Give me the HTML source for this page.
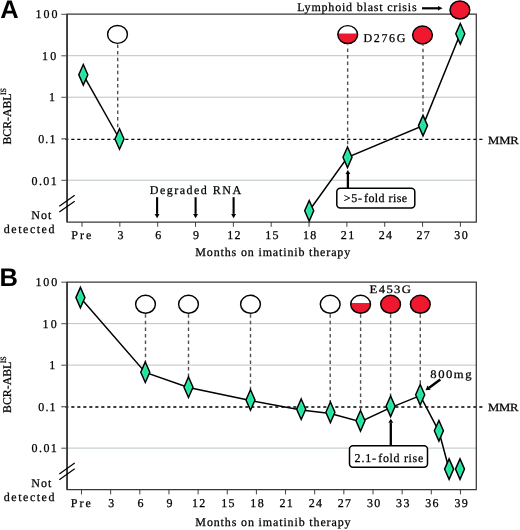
<!DOCTYPE html>
<html><head><meta charset="utf-8"><style>
html,body{margin:0;padding:0;background:#fff;}
body{width:520px;height:530px;overflow:hidden;}
svg{display:block;will-change:transform;}
text{text-rendering:geometricPrecision;}
</style></head><body>
<svg width="520" height="530" viewBox="0 0 520 530">
<rect width="520" height="530" fill="#fff"/>
<defs><radialGradient id="dg" cx="0.5" cy="0.5" r="0.5"><stop offset="0" stop-color="#14ea80"/><stop offset="0.3" stop-color="#1ee994"/><stop offset="0.72" stop-color="#48e2d6"/></radialGradient></defs>
<line x1="67.1" y1="55.70" x2="476.3" y2="55.70" stroke="#b9c6c1" stroke-width="1"/>
<line x1="67.1" y1="97.20" x2="476.3" y2="97.20" stroke="#b9c6c1" stroke-width="1"/>
<line x1="67.1" y1="180.20" x2="476.3" y2="180.20" stroke="#b9c6c1" stroke-width="1"/>
<line x1="62.099999999999994" y1="139.40" x2="482.6" y2="139.40" stroke="#000" stroke-width="1.35" stroke-dasharray="3.1 2.9" stroke-dashoffset="2.8"/>
<path d="M67.1 14.2 H476.3 V222.0 H67.1 Z" fill="none" stroke="#383838" stroke-width="1.25"/>
<line x1="67.1" y1="14.2" x2="67.1" y2="222.0" stroke="#383838" stroke-width="1.7"/>
<line x1="61.3" y1="14.30" x2="67.1" y2="14.30" stroke="#444" stroke-width="0.95"/>
<line x1="61.3" y1="55.80" x2="67.1" y2="55.80" stroke="#444" stroke-width="0.95"/>
<line x1="61.3" y1="97.30" x2="67.1" y2="97.30" stroke="#444" stroke-width="0.95"/>
<line x1="61.3" y1="138.80" x2="67.1" y2="138.80" stroke="#444" stroke-width="0.95"/>
<line x1="61.3" y1="180.30" x2="67.1" y2="180.30" stroke="#444" stroke-width="0.95"/>
<line x1="82.0" y1="222.0" x2="82.0" y2="226.8" stroke="#383838" stroke-width="0.95"/>
<line x1="119.84" y1="222.0" x2="119.84" y2="226.8" stroke="#383838" stroke-width="0.95"/>
<line x1="157.68" y1="222.0" x2="157.68" y2="226.8" stroke="#383838" stroke-width="0.95"/>
<line x1="195.52" y1="222.0" x2="195.52" y2="226.8" stroke="#383838" stroke-width="0.95"/>
<line x1="233.36" y1="222.0" x2="233.36" y2="226.8" stroke="#383838" stroke-width="0.95"/>
<line x1="271.20000000000005" y1="222.0" x2="271.20000000000005" y2="226.8" stroke="#383838" stroke-width="0.95"/>
<line x1="309.04" y1="222.0" x2="309.04" y2="226.8" stroke="#383838" stroke-width="0.95"/>
<line x1="346.88" y1="222.0" x2="346.88" y2="226.8" stroke="#383838" stroke-width="0.95"/>
<line x1="384.72" y1="222.0" x2="384.72" y2="226.8" stroke="#383838" stroke-width="0.95"/>
<line x1="422.56000000000006" y1="222.0" x2="422.56000000000006" y2="226.8" stroke="#383838" stroke-width="0.95"/>
<line x1="460.40000000000003" y1="222.0" x2="460.40000000000003" y2="226.8" stroke="#383838" stroke-width="0.95"/>
<text transform="translate(120.44 239.0) scale(1.0 1)" font-family='"Liberation Serif", serif' font-size="12" letter-spacing="0" text-anchor="middle" font-weight="normal" fill="#000" stroke="#000" stroke-width="0.25">3</text>
<text transform="translate(158.28 239.0) scale(1.0 1)" font-family='"Liberation Serif", serif' font-size="12" letter-spacing="0" text-anchor="middle" font-weight="normal" fill="#000" stroke="#000" stroke-width="0.25">6</text>
<text transform="translate(196.12 239.0) scale(1.0 1)" font-family='"Liberation Serif", serif' font-size="12" letter-spacing="0" text-anchor="middle" font-weight="normal" fill="#000" stroke="#000" stroke-width="0.25">9</text>
<text transform="translate(234.61 239.0) scale(1.0 1)" font-family='"Liberation Serif", serif' font-size="12" letter-spacing="1.3" text-anchor="middle" font-weight="normal" fill="#000" stroke="#000" stroke-width="0.25">12</text>
<text transform="translate(272.45000000000005 239.0) scale(1.0 1)" font-family='"Liberation Serif", serif' font-size="12" letter-spacing="1.3" text-anchor="middle" font-weight="normal" fill="#000" stroke="#000" stroke-width="0.25">15</text>
<text transform="translate(310.29 239.0) scale(1.0 1)" font-family='"Liberation Serif", serif' font-size="12" letter-spacing="1.3" text-anchor="middle" font-weight="normal" fill="#000" stroke="#000" stroke-width="0.25">18</text>
<text transform="translate(348.13 239.0) scale(1.0 1)" font-family='"Liberation Serif", serif' font-size="12" letter-spacing="1.3" text-anchor="middle" font-weight="normal" fill="#000" stroke="#000" stroke-width="0.25">21</text>
<text transform="translate(385.97 239.0) scale(1.0 1)" font-family='"Liberation Serif", serif' font-size="12" letter-spacing="1.3" text-anchor="middle" font-weight="normal" fill="#000" stroke="#000" stroke-width="0.25">24</text>
<text transform="translate(423.81000000000006 239.0) scale(1.0 1)" font-family='"Liberation Serif", serif' font-size="12" letter-spacing="1.3" text-anchor="middle" font-weight="normal" fill="#000" stroke="#000" stroke-width="0.25">27</text>
<text transform="translate(461.65000000000003 239.0) scale(1.0 1)" font-family='"Liberation Serif", serif' font-size="12" letter-spacing="1.3" text-anchor="middle" font-weight="normal" fill="#000" stroke="#000" stroke-width="0.25">30</text>
<line x1="59.3" y1="206.3" x2="74.7" y2="195.3" stroke="#000" stroke-width="1.2"/>
<line x1="59.3" y1="212.1" x2="74.7" y2="201.2" stroke="#000" stroke-width="1.2"/>
<text transform="translate(0.3 18.4) scale(1 1)" font-family='"Liberation Sans", sans-serif' font-size="25.5" letter-spacing="0" text-anchor="start" font-weight="bold" fill="#000">A</text>
<line x1="117.7" y1="44.5" x2="117.7" y2="128" stroke="#505050" stroke-width="1.4" stroke-dasharray="3.5 3.1" stroke-dashoffset="0.05"/>
<line x1="347.65" y1="44.8" x2="347.65" y2="147" stroke="#505050" stroke-width="1.4" stroke-dasharray="3.5 3.1" stroke-dashoffset="3.0"/>
<line x1="423" y1="44.8" x2="423" y2="114" stroke="#505050" stroke-width="1.4" stroke-dasharray="3.5 3.1" stroke-dashoffset="2.6"/>
<path d="M83.3 74.8 L119.5 139.0" fill="none" stroke="#000" stroke-width="1.5"/>
<path d="M309.2 210.8 L347.5 157.3 L423 125.6 L460.3 33.8" fill="none" stroke="#000" stroke-width="1.5"/>
<path d="M83.30 64.55 L87.80 74.80 L83.30 85.05 L78.80 74.80 Z" fill="url(#dg)" stroke="#000" stroke-width="1.5"/>
<path d="M119.50 128.75 L124.00 139.00 L119.50 149.25 L115.00 139.00 Z" fill="url(#dg)" stroke="#000" stroke-width="1.5"/>
<path d="M309.20 200.55 L313.70 210.80 L309.20 221.05 L304.70 210.80 Z" fill="url(#dg)" stroke="#000" stroke-width="1.5"/>
<path d="M347.50 147.05 L352.00 157.30 L347.50 167.55 L343.00 157.30 Z" fill="url(#dg)" stroke="#000" stroke-width="1.5"/>
<path d="M423.00 115.35 L427.50 125.60 L423.00 135.85 L418.50 125.60 Z" fill="url(#dg)" stroke="#000" stroke-width="1.5"/>
<path d="M460.30 23.55 L464.80 33.80 L460.30 44.05 L455.80 33.80 Z" fill="url(#dg)" stroke="#000" stroke-width="1.5"/>
<ellipse cx="117.5" cy="34.4" rx="9.9" ry="8.95" fill="#fff" stroke="#000" stroke-width="1.45"/>
<clipPath id="c347_34"><rect x="335.8" y="33.4" width="23.8" height="12.95"/></clipPath>
<ellipse cx="347.7" cy="34.6" rx="9.9" ry="8.95" fill="#fff"/>
<ellipse cx="347.7" cy="34.6" rx="9.9" ry="8.95" fill="#f0182e" clip-path="url(#c347_34)"/>
<ellipse cx="347.7" cy="34.6" rx="9.9" ry="8.95" fill="none" stroke="#000" stroke-width="1.45"/>
<ellipse cx="422.5" cy="35.0" rx="9.9" ry="8.95" fill="#f0182e" stroke="#000" stroke-width="1.45"/>
<ellipse cx="459.9" cy="10.0" rx="9.9" ry="9.0" fill="#f0182e" stroke="#000" stroke-width="1.45"/>
<line x1="422" y1="8.3" x2="438.00" y2="8.30" stroke="#000" stroke-width="2.2"/>
<path d="M442.60 8.30 L438.00 10.60 L438.00 6.00 Z" fill="#000"/>
<line x1="157.1" y1="197.2" x2="157.10" y2="213.90" stroke="#000" stroke-width="2.1"/>
<path d="M157.10 218.30 L154.70 213.90 L159.50 213.90 Z" fill="#000"/>
<line x1="195.6" y1="197.2" x2="195.60" y2="213.90" stroke="#000" stroke-width="2.1"/>
<path d="M195.60 218.30 L193.20 213.90 L198.00 213.90 Z" fill="#000"/>
<line x1="233.6" y1="197.2" x2="233.60" y2="213.90" stroke="#000" stroke-width="2.1"/>
<path d="M233.60 218.30 L231.20 213.90 L236.00 213.90 Z" fill="#000"/>
<rect x="336.8" y="188.3" width="78" height="19.8" rx="3.5" fill="#fff" stroke="#000" stroke-width="1.5"/>
<line x1="347.9" y1="188.3" x2="347.90" y2="174.00" stroke="#000" stroke-width="2.3"/>
<path d="M347.90 170.00 L350.30 174.00 L345.50 174.00 Z" fill="#000"/>
<line x1="67.1" y1="323.60" x2="476.3" y2="323.60" stroke="#b9c6c1" stroke-width="1"/>
<line x1="67.1" y1="365.10" x2="476.3" y2="365.10" stroke="#b9c6c1" stroke-width="1"/>
<line x1="67.1" y1="448.10" x2="476.3" y2="448.10" stroke="#b9c6c1" stroke-width="1"/>
<line x1="62.099999999999994" y1="406.95" x2="482.6" y2="406.95" stroke="#000" stroke-width="1.35" stroke-dasharray="3.1 2.9" stroke-dashoffset="2.8"/>
<path d="M67.1 282.1 H476.3 V489.6 H67.1 Z" fill="none" stroke="#383838" stroke-width="1.25"/>
<line x1="67.1" y1="282.1" x2="67.1" y2="489.6" stroke="#383838" stroke-width="1.7"/>
<line x1="61.3" y1="282.20" x2="67.1" y2="282.20" stroke="#444" stroke-width="0.95"/>
<line x1="61.3" y1="323.70" x2="67.1" y2="323.70" stroke="#444" stroke-width="0.95"/>
<line x1="61.3" y1="365.20" x2="67.1" y2="365.20" stroke="#444" stroke-width="0.95"/>
<line x1="61.3" y1="406.70" x2="67.1" y2="406.70" stroke="#444" stroke-width="0.95"/>
<line x1="61.3" y1="448.20" x2="67.1" y2="448.20" stroke="#444" stroke-width="0.95"/>
<line x1="81.5" y1="489.6" x2="81.5" y2="494.40000000000003" stroke="#383838" stroke-width="0.95"/>
<line x1="110.65" y1="489.6" x2="110.65" y2="494.40000000000003" stroke="#383838" stroke-width="0.95"/>
<line x1="139.8" y1="489.6" x2="139.8" y2="494.40000000000003" stroke="#383838" stroke-width="0.95"/>
<line x1="168.95" y1="489.6" x2="168.95" y2="494.40000000000003" stroke="#383838" stroke-width="0.95"/>
<line x1="198.1" y1="489.6" x2="198.1" y2="494.40000000000003" stroke="#383838" stroke-width="0.95"/>
<line x1="227.25" y1="489.6" x2="227.25" y2="494.40000000000003" stroke="#383838" stroke-width="0.95"/>
<line x1="256.4" y1="489.6" x2="256.4" y2="494.40000000000003" stroke="#383838" stroke-width="0.95"/>
<line x1="285.54999999999995" y1="489.6" x2="285.54999999999995" y2="494.40000000000003" stroke="#383838" stroke-width="0.95"/>
<line x1="314.7" y1="489.6" x2="314.7" y2="494.40000000000003" stroke="#383838" stroke-width="0.95"/>
<line x1="343.84999999999997" y1="489.6" x2="343.84999999999997" y2="494.40000000000003" stroke="#383838" stroke-width="0.95"/>
<line x1="373.0" y1="489.6" x2="373.0" y2="494.40000000000003" stroke="#383838" stroke-width="0.95"/>
<line x1="402.15" y1="489.6" x2="402.15" y2="494.40000000000003" stroke="#383838" stroke-width="0.95"/>
<line x1="431.29999999999995" y1="489.6" x2="431.29999999999995" y2="494.40000000000003" stroke="#383838" stroke-width="0.95"/>
<line x1="460.45" y1="489.6" x2="460.45" y2="494.40000000000003" stroke="#383838" stroke-width="0.95"/>
<text transform="translate(111.25 506.8) scale(1.0 1)" font-family='"Liberation Serif", serif' font-size="12" letter-spacing="0" text-anchor="middle" font-weight="normal" fill="#000" stroke="#000" stroke-width="0.25">3</text>
<text transform="translate(140.4 506.8) scale(1.0 1)" font-family='"Liberation Serif", serif' font-size="12" letter-spacing="0" text-anchor="middle" font-weight="normal" fill="#000" stroke="#000" stroke-width="0.25">6</text>
<text transform="translate(169.54999999999998 506.8) scale(1.0 1)" font-family='"Liberation Serif", serif' font-size="12" letter-spacing="0" text-anchor="middle" font-weight="normal" fill="#000" stroke="#000" stroke-width="0.25">9</text>
<text transform="translate(199.35 506.8) scale(1.0 1)" font-family='"Liberation Serif", serif' font-size="12" letter-spacing="1.3" text-anchor="middle" font-weight="normal" fill="#000" stroke="#000" stroke-width="0.25">12</text>
<text transform="translate(228.5 506.8) scale(1.0 1)" font-family='"Liberation Serif", serif' font-size="12" letter-spacing="1.3" text-anchor="middle" font-weight="normal" fill="#000" stroke="#000" stroke-width="0.25">15</text>
<text transform="translate(257.65 506.8) scale(1.0 1)" font-family='"Liberation Serif", serif' font-size="12" letter-spacing="1.3" text-anchor="middle" font-weight="normal" fill="#000" stroke="#000" stroke-width="0.25">18</text>
<text transform="translate(286.79999999999995 506.8) scale(1.0 1)" font-family='"Liberation Serif", serif' font-size="12" letter-spacing="1.3" text-anchor="middle" font-weight="normal" fill="#000" stroke="#000" stroke-width="0.25">21</text>
<text transform="translate(315.95 506.8) scale(1.0 1)" font-family='"Liberation Serif", serif' font-size="12" letter-spacing="1.3" text-anchor="middle" font-weight="normal" fill="#000" stroke="#000" stroke-width="0.25">24</text>
<text transform="translate(345.09999999999997 506.8) scale(1.0 1)" font-family='"Liberation Serif", serif' font-size="12" letter-spacing="1.3" text-anchor="middle" font-weight="normal" fill="#000" stroke="#000" stroke-width="0.25">27</text>
<text transform="translate(374.25 506.8) scale(1.0 1)" font-family='"Liberation Serif", serif' font-size="12" letter-spacing="1.3" text-anchor="middle" font-weight="normal" fill="#000" stroke="#000" stroke-width="0.25">30</text>
<text transform="translate(403.4 506.8) scale(1.0 1)" font-family='"Liberation Serif", serif' font-size="12" letter-spacing="1.3" text-anchor="middle" font-weight="normal" fill="#000" stroke="#000" stroke-width="0.25">33</text>
<text transform="translate(432.54999999999995 506.8) scale(1.0 1)" font-family='"Liberation Serif", serif' font-size="12" letter-spacing="1.3" text-anchor="middle" font-weight="normal" fill="#000" stroke="#000" stroke-width="0.25">36</text>
<text transform="translate(461.7 506.8) scale(1.0 1)" font-family='"Liberation Serif", serif' font-size="12" letter-spacing="1.3" text-anchor="middle" font-weight="normal" fill="#000" stroke="#000" stroke-width="0.25">39</text>
<line x1="59.3" y1="473.90000000000003" x2="74.7" y2="462.90000000000003" stroke="#000" stroke-width="1.2"/>
<line x1="59.3" y1="479.70000000000005" x2="74.7" y2="468.8" stroke="#000" stroke-width="1.2"/>
<text transform="translate(-0.6 285.6) scale(1 1)" font-family='"Liberation Sans", sans-serif' font-size="25.5" letter-spacing="0" text-anchor="start" font-weight="bold" fill="#000">B</text>
<line x1="145.5" y1="313.8" x2="145.5" y2="362.2" stroke="#505050" stroke-width="1.4" stroke-dasharray="3.5 3.1" stroke-dashoffset="6.2"/>
<line x1="188.5" y1="313.8" x2="188.5" y2="377.2" stroke="#505050" stroke-width="1.4" stroke-dasharray="3.5 3.1" stroke-dashoffset="6.2"/>
<line x1="250.5" y1="313.8" x2="250.5" y2="390.0" stroke="#505050" stroke-width="1.4" stroke-dasharray="3.5 3.1" stroke-dashoffset="6.2"/>
<line x1="330.2" y1="313.8" x2="330.2" y2="402.3" stroke="#505050" stroke-width="1.4" stroke-dasharray="3.5 3.1" stroke-dashoffset="6.2"/>
<line x1="360.6" y1="313.8" x2="360.6" y2="410.8" stroke="#505050" stroke-width="1.4" stroke-dasharray="3.5 3.1" stroke-dashoffset="6.2"/>
<line x1="390.6" y1="313.8" x2="390.6" y2="396.3" stroke="#505050" stroke-width="1.4" stroke-dasharray="3.5 3.1" stroke-dashoffset="6.2"/>
<line x1="420.3" y1="313.8" x2="420.3" y2="384.8" stroke="#505050" stroke-width="1.4" stroke-dasharray="3.5 3.1" stroke-dashoffset="6.2"/>
<path d="M80.4 297.8 L145.3 372.4 L188.5 387.5 L250.5 400.5 L301.2 410.0 L330.4 413.6 L360.5 421.6 L390.6 407.6 L420.2 395.6 L438.9 431.3 L449.1 469.3" fill="none" stroke="#000" stroke-width="1.5"/>
<path d="M80.40 287.35 L84.90 297.60 L80.40 307.85 L75.90 297.60 Z" fill="url(#dg)" stroke="#000" stroke-width="1.5"/>
<path d="M145.30 361.95 L149.80 372.20 L145.30 382.45 L140.80 372.20 Z" fill="url(#dg)" stroke="#000" stroke-width="1.5"/>
<path d="M188.50 376.95 L193.00 387.20 L188.50 397.45 L184.00 387.20 Z" fill="url(#dg)" stroke="#000" stroke-width="1.5"/>
<path d="M250.50 389.75 L255.00 400.00 L250.50 410.25 L246.00 400.00 Z" fill="url(#dg)" stroke="#000" stroke-width="1.5"/>
<path d="M301.20 398.95 L305.70 409.20 L301.20 419.45 L296.70 409.20 Z" fill="url(#dg)" stroke="#000" stroke-width="1.5"/>
<path d="M330.40 402.05 L334.90 412.30 L330.40 422.55 L325.90 412.30 Z" fill="url(#dg)" stroke="#000" stroke-width="1.5"/>
<path d="M360.50 410.55 L365.00 420.80 L360.50 431.05 L356.00 420.80 Z" fill="url(#dg)" stroke="#000" stroke-width="1.5"/>
<path d="M390.60 396.05 L395.10 406.30 L390.60 416.55 L386.10 406.30 Z" fill="url(#dg)" stroke="#000" stroke-width="1.5"/>
<path d="M420.20 384.55 L424.70 394.80 L420.20 405.05 L415.70 394.80 Z" fill="url(#dg)" stroke="#000" stroke-width="1.5"/>
<path d="M438.90 420.55 L443.40 430.80 L438.90 441.05 L434.40 430.80 Z" fill="url(#dg)" stroke="#000" stroke-width="1.5"/>
<path d="M449.10 458.85 L453.60 469.10 L449.10 479.35 L444.60 469.10 Z" fill="url(#dg)" stroke="#000" stroke-width="1.5"/>
<path d="M460.00 458.85 L464.50 469.10 L460.00 479.35 L455.50 469.10 Z" fill="url(#dg)" stroke="#000" stroke-width="1.5"/>
<ellipse cx="145.5" cy="304.3" rx="9.9" ry="8.95" fill="#fff" stroke="#000" stroke-width="1.45"/>
<ellipse cx="188.5" cy="304.3" rx="9.9" ry="8.95" fill="#fff" stroke="#000" stroke-width="1.45"/>
<ellipse cx="250.5" cy="304.3" rx="9.9" ry="8.95" fill="#fff" stroke="#000" stroke-width="1.45"/>
<ellipse cx="330.2" cy="304.3" rx="9.9" ry="8.95" fill="#fff" stroke="#000" stroke-width="1.45"/>
<clipPath id="c360_304"><rect x="348.70000000000005" y="303.1" width="23.8" height="12.95"/></clipPath>
<ellipse cx="360.6" cy="304.3" rx="9.9" ry="8.95" fill="#fff"/>
<ellipse cx="360.6" cy="304.3" rx="9.9" ry="8.95" fill="#f0182e" clip-path="url(#c360_304)"/>
<ellipse cx="360.6" cy="304.3" rx="9.9" ry="8.95" fill="none" stroke="#000" stroke-width="1.45"/>
<ellipse cx="390.6" cy="304.3" rx="9.9" ry="8.95" fill="#f0182e" stroke="#000" stroke-width="1.45"/>
<ellipse cx="420.3" cy="304.3" rx="9.9" ry="8.95" fill="#f0182e" stroke="#000" stroke-width="1.45"/>
<line x1="440.3" y1="379.6" x2="429.15" y2="387.66" stroke="#000" stroke-width="2.5"/>
<path d="M425.50 390.30 L427.56 385.48 L430.73 389.85 Z" fill="#000"/>
<rect x="349.5" y="445.8" width="78" height="21.5" rx="3.5" fill="#fff" stroke="#000" stroke-width="1.5"/>
<line x1="390.8" y1="445.8" x2="390.80" y2="422.80" stroke="#000" stroke-width="2.3"/>
<path d="M390.80 418.80 L393.20 422.80 L388.40 422.80 Z" fill="#000"/>
<text transform="translate(35.5 18.2) scale(1.0 1)" font-family='"Liberation Serif", serif' font-size="12" letter-spacing="1.975" text-anchor="start" font-weight="normal" fill="#000" stroke="#000" stroke-width="0.25">100</text>
<text transform="translate(42.1 59.7) scale(1.0 1)" font-family='"Liberation Serif", serif' font-size="12" letter-spacing="2.15" text-anchor="start" font-weight="normal" fill="#000" stroke="#000" stroke-width="0.25">10</text>
<text transform="translate(49.1 101.0) scale(1.0 1)" font-family='"Liberation Serif", serif' font-size="12" letter-spacing="0.0" text-anchor="start" font-weight="normal" fill="#000" stroke="#000" stroke-width="0.25">1</text>
<text transform="translate(38.25 143.4) scale(1.0 1)" font-family='"Liberation Serif", serif' font-size="12" letter-spacing="1.075" text-anchor="start" font-weight="normal" fill="#000" stroke="#000" stroke-width="0.25">0.1</text>
<text transform="translate(31.45 184.7) scale(1.0 1)" font-family='"Liberation Serif", serif' font-size="12" letter-spacing="1.433" text-anchor="start" font-weight="normal" fill="#000" stroke="#000" stroke-width="0.25">0.01</text>
<text transform="translate(31.35 219.3) scale(1.0 1)" font-family='"Liberation Serif", serif' font-size="12" letter-spacing="1.025" text-anchor="start" font-weight="normal" fill="#000" stroke="#000" stroke-width="0.25">Not</text>
<text transform="translate(3.75 232.8) scale(1.0 1)" font-family='"Liberation Serif", serif' font-size="12" letter-spacing="1.536" text-anchor="start" font-weight="normal" fill="#000" stroke="#000" stroke-width="0.25">detected</text>
<text transform="translate(71.15 239.3) scale(1.0 1)" font-family='"Liberation Serif", serif' font-size="12" letter-spacing="2.1" text-anchor="start" font-weight="normal" fill="#000" stroke="#000" stroke-width="0.25">Pre</text>
<text transform="translate(195.35 255.5) scale(1.0 1)" font-family='"Liberation Serif", serif' font-size="12" letter-spacing="0.846" text-anchor="start" font-weight="normal" fill="#000" stroke="#000" stroke-width="0.25">Months on imatinib therapy</text>
<text transform="translate(363.45 42.2) scale(1.0 1)" font-family='"Liberation Serif", serif' font-size="12" letter-spacing="1.65" text-anchor="start" font-weight="normal" fill="#000" stroke="#000" stroke-width="0.25">D276G</text>
<text transform="translate(297.15 11.0) scale(1.0 1)" font-family='"Liberation Serif", serif' font-size="12" letter-spacing="0.805" text-anchor="start" font-weight="normal" fill="#000" stroke="#000" stroke-width="0.25">Lymphoid blast crisis</text>
<text transform="translate(149.75 193.5) scale(1.0 1)" font-family='"Liberation Serif", serif' font-size="12" letter-spacing="1.491" text-anchor="start" font-weight="normal" fill="#000" stroke="#000" stroke-width="0.25">Degraded RNA</text>
<text transform="translate(343.7 202.2) scale(1.0 1)" font-family='"Liberation Serif", serif' font-size="12" letter-spacing="0.825" text-anchor="start" font-weight="normal" fill="#000" stroke="#000" stroke-width="0.25">&gt;5-</text>
<text transform="translate(363.95 202.2) scale(1.0 1)" font-family='"Liberation Serif", serif' font-size="12" letter-spacing="0.438" text-anchor="start" font-weight="normal" fill="#000" stroke="#000" stroke-width="0.25">fold rise</text>
<text transform="translate(488.05 143.7) scale(1.15 1)" font-family='"Liberation Serif", serif' font-size="11" letter-spacing="-0.109" text-anchor="start" font-weight="normal" fill="#000" stroke="#000" stroke-width="0.25">MMR</text>
<text transform="translate(35.4 286.0) scale(1.0 1)" font-family='"Liberation Serif", serif' font-size="12" letter-spacing="1.975" text-anchor="start" font-weight="normal" fill="#000" stroke="#000" stroke-width="0.25">100</text>
<text transform="translate(42.4 327.8) scale(1.0 1)" font-family='"Liberation Serif", serif' font-size="12" letter-spacing="2.3" text-anchor="start" font-weight="normal" fill="#000" stroke="#000" stroke-width="0.25">10</text>
<text transform="translate(49.3 369.2) scale(1.0 1)" font-family='"Liberation Serif", serif' font-size="12" letter-spacing="0.0" text-anchor="start" font-weight="normal" fill="#000" stroke="#000" stroke-width="0.25">1</text>
<text transform="translate(38.35 410.9) scale(1.0 1)" font-family='"Liberation Serif", serif' font-size="12" letter-spacing="1.075" text-anchor="start" font-weight="normal" fill="#000" stroke="#000" stroke-width="0.25">0.1</text>
<text transform="translate(31.55 452.4) scale(1.0 1)" font-family='"Liberation Serif", serif' font-size="12" letter-spacing="1.433" text-anchor="start" font-weight="normal" fill="#000" stroke="#000" stroke-width="0.25">0.01</text>
<text transform="translate(31.35 487.3) scale(1.0 1)" font-family='"Liberation Serif", serif' font-size="12" letter-spacing="1.025" text-anchor="start" font-weight="normal" fill="#000" stroke="#000" stroke-width="0.25">Not</text>
<text transform="translate(3.75 500.6) scale(1.0 1)" font-family='"Liberation Serif", serif' font-size="12" letter-spacing="1.536" text-anchor="start" font-weight="normal" fill="#000" stroke="#000" stroke-width="0.25">detected</text>
<text transform="translate(70.75 506.8) scale(1.0 1)" font-family='"Liberation Serif", serif' font-size="12" letter-spacing="2.1" text-anchor="start" font-weight="normal" fill="#000" stroke="#000" stroke-width="0.25">Pre</text>
<text transform="translate(195.35 526.0) scale(1.0 1)" font-family='"Liberation Serif", serif' font-size="12" letter-spacing="0.86" text-anchor="start" font-weight="normal" fill="#000" stroke="#000" stroke-width="0.25">Months on imatinib therapy</text>
<text transform="translate(369.55 292.5) scale(1.12 1)" font-family='"Liberation Serif", serif' font-size="11.3" letter-spacing="1.239" text-anchor="start" font-weight="normal" fill="#000" stroke="#000" stroke-width="0.25">E453G</text>
<text transform="translate(430.35 377.6) scale(1.1 1)" font-family='"Liberation Serif", serif' font-size="11.5" letter-spacing="1.375" text-anchor="start" font-weight="normal" fill="#000" stroke="#000" stroke-width="0.25">800mg</text>
<text transform="translate(354.6 461.6) scale(1.0 1)" font-family='"Liberation Serif", serif' font-size="12" letter-spacing="0.8" text-anchor="start" font-weight="normal" fill="#000" stroke="#000" stroke-width="0.25">2.1-</text>
<text transform="translate(378.25 461.6) scale(1.0 1)" font-family='"Liberation Serif", serif' font-size="12" letter-spacing="0.662" text-anchor="start" font-weight="normal" fill="#000" stroke="#000" stroke-width="0.25">fold rise</text>
<text transform="translate(488.05 410.9) scale(1.15 1)" font-family='"Liberation Serif", serif' font-size="11" letter-spacing="-0.283" text-anchor="start" font-weight="normal" fill="#000" stroke="#000" stroke-width="0.25">MMR</text>
<text transform="translate(10.5 144.6) rotate(-90)" font-family='"Liberation Serif", serif' font-size="11.8" text-anchor="start" fill="#000" stroke="#000" stroke-width="0.25">BCR-ABL<tspan font-size="8" dx="-1.6" dy="-4.8">IS</tspan></text>
<text transform="translate(10.5 412.9) rotate(-90)" font-family='"Liberation Serif", serif' font-size="11.8" text-anchor="start" fill="#000" stroke="#000" stroke-width="0.25">BCR-ABL<tspan font-size="8" dx="-1.6" dy="-4.8">IS</tspan></text>
</svg>
</body></html>
